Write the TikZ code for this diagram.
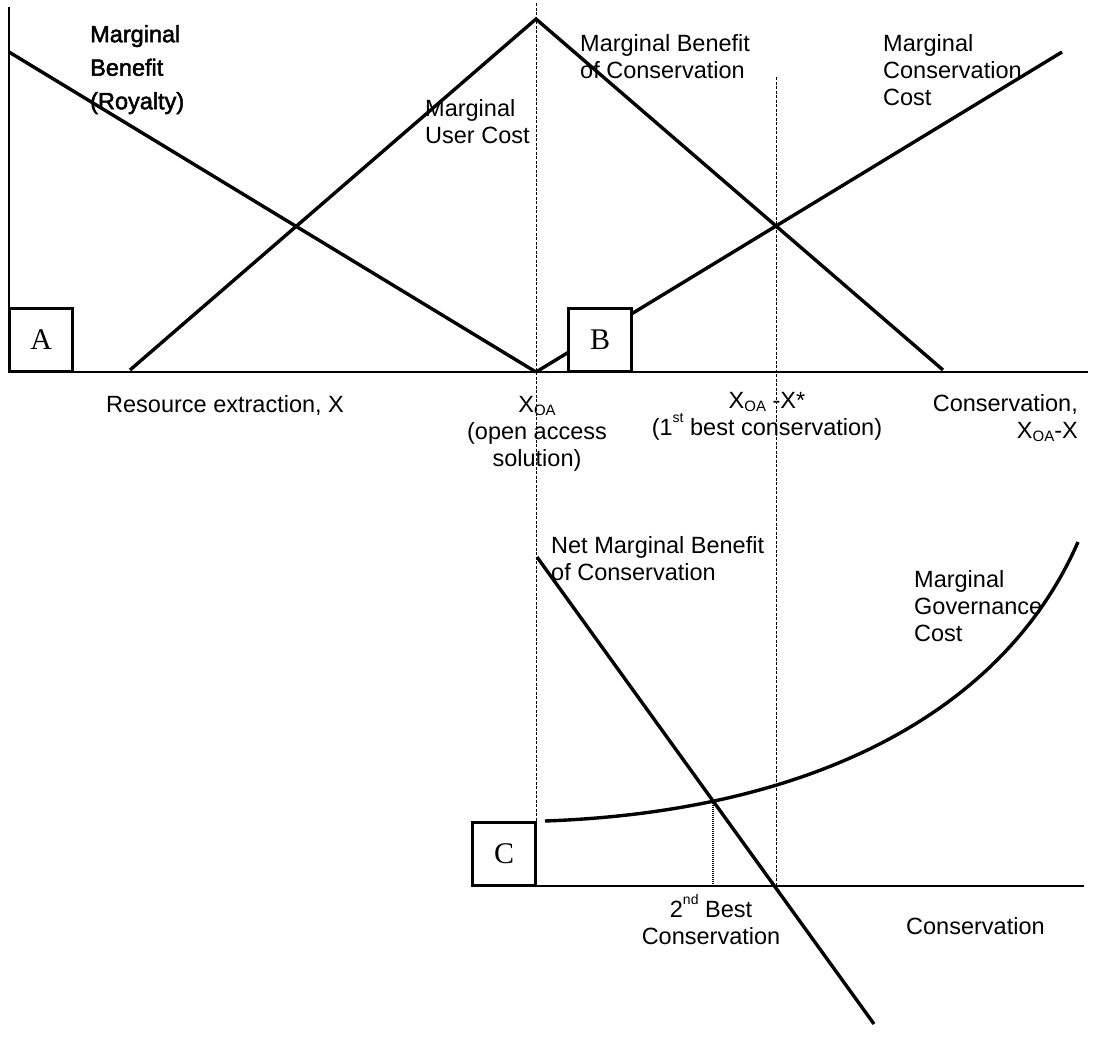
\documentclass[tikz,border=0pt]{standalone}
\usepackage{fontspec}
\setmainfont{Liberation Sans}
\newfontfamily\boxfont{Liberation Serif}
\newfontfamily\boldish{Liberation Sans}[FakeBold=2]
\usetikzlibrary{intersections}
\newcommand{\sbOA}{\raisebox{-0.12em}{\fontsize{15}{15}\selectfont OA}}
\newcommand{\supr}[1]{\raisebox{0.55em}{\fontsize{14}{14}\selectfont #1}}
\begin{document}
\begin{tikzpicture}[x=1pt,y=-1pt,
  curve/.style={line width=3.4pt},
  axis/.style={line width=1.3pt},
  guide/.style={line width=0.9pt, dash pattern=on 3pt off 1.5pt},
  dotguide/.style={line width=1.6pt, dash pattern=on 1pt off 1pt},
  panelbox/.style={draw, line width=2.6pt, fill=white, minimum width=63pt, minimum height=63pt, inner sep=0pt, font=\boxfont\fontsize{30}{30}\selectfont},
  lbl/.style={inner sep=0pt, font=\fontsize{23.5}{27}\selectfont},
]
\useasboundingbox[fill=white] (0,0) rectangle (1094,1036);

% axes
\coordinate (ytop) at (9,7);
\coordinate (o1) at (9,372);
\coordinate (xend) at (1088,372);
\draw[axis] (ytop) -- (o1) -- (xend);
\coordinate (o3) at (536,886);
\coordinate (x3end) at (1084,886);
\draw[axis] (o3) -- (x3end);

% guide lines
\coordinate (g1top) at (536,3);
\coordinate (g1bot) at (536,886);
\coordinate (g2top) at (776,77);
\coordinate (g2bot) at (776,886);
\draw[guide] (g1top) -- (g1bot);
\draw[guide] (g2top) -- (g2bot);

% panel A/B curves
\coordinate (mbr0) at (9,52);
\coordinate (xoa) at (536,372);
\coordinate (muc0) at (130,370);
\coordinate (peak) at (536,19);
\coordinate (mbc1) at (943,370);
\coordinate (mcc1) at (1062,52);
\draw[curve] (mbr0) -- (xoa);
\draw[curve] (muc0) -- (peak) -- (mbc1);
\draw[curve] (xoa) -- (mcc1);

% panel C curves
\coordinate (nmb0) at (537,557);
\coordinate (nmb1) at (874,1024);
\coordinate (mgc0) at (545,821);
\coordinate (mgcA) at (800,812);
\coordinate (mgcB) at (1000,720);
\coordinate (mgc1) at (1078,542);
\draw[curve, name path=nmb] (nmb0) -- (nmb1);
\draw[curve, name path=mgc] (mgc0) .. controls (mgcA) and (mgcB) .. (mgc1);
\path[name intersections={of=nmb and mgc, by=best2}];
\coordinate (best2ax) at (best2 |- o3);
\draw[dotguide] (best2) -- (best2ax);

% panel boxes
\node[panelbox] (boxA) at (41.25,340) {A};
\node[panelbox] (boxB) at (600,340) {B};
\node[panelbox] (boxC) at (504.2,854) {C};

% labels
\node[lbl, anchor=north west, align=left, font=\boldish\fontsize{23.5}{33.5}\selectfont] (tmbr) at (90,25) {Marginal\\Benefit\\(Royalty)};
\node[lbl, anchor=north west, align=left] (tmuc) at (425,99) {Marginal\\User Cost};
\node[lbl, anchor=north west, align=left] (tmbc) at (580,34) {Marginal Benefit\\of Conservation};
\node[lbl, anchor=north west, align=left] (tmcc) at (883,34) {Marginal\\Conservation\\Cost};
\node[lbl, anchor=north west] (tres) at (106,395) {Resource extraction, X};
\node[lbl, anchor=north, align=center] (txoa) at (537,396) {X\sbOA\\(open access\\solution)};
\node[lbl, anchor=north, align=center] (tfirst) at (767,392) {X\sbOA{} -X*\\(1\supr{st} best conservation)};
\node[lbl, anchor=north east, align=right] (tcons1) at (1078,394) {Conservation,\\X\sbOA-X};
\node[lbl, anchor=north west, align=left] (tnmb) at (551,536) {Net Marginal Benefit\\of Conservation};
\node[lbl, anchor=north west, align=left] (tmgc) at (914,570) {Marginal\\Governance\\Cost};
\node[lbl, anchor=north, align=center] (tsecond) at (711,894) {2\supr{nd} Best\\Conservation};
\node[lbl, anchor=north west] (tcons2) at (906,917) {Conservation};
\end{tikzpicture}
\end{document}
